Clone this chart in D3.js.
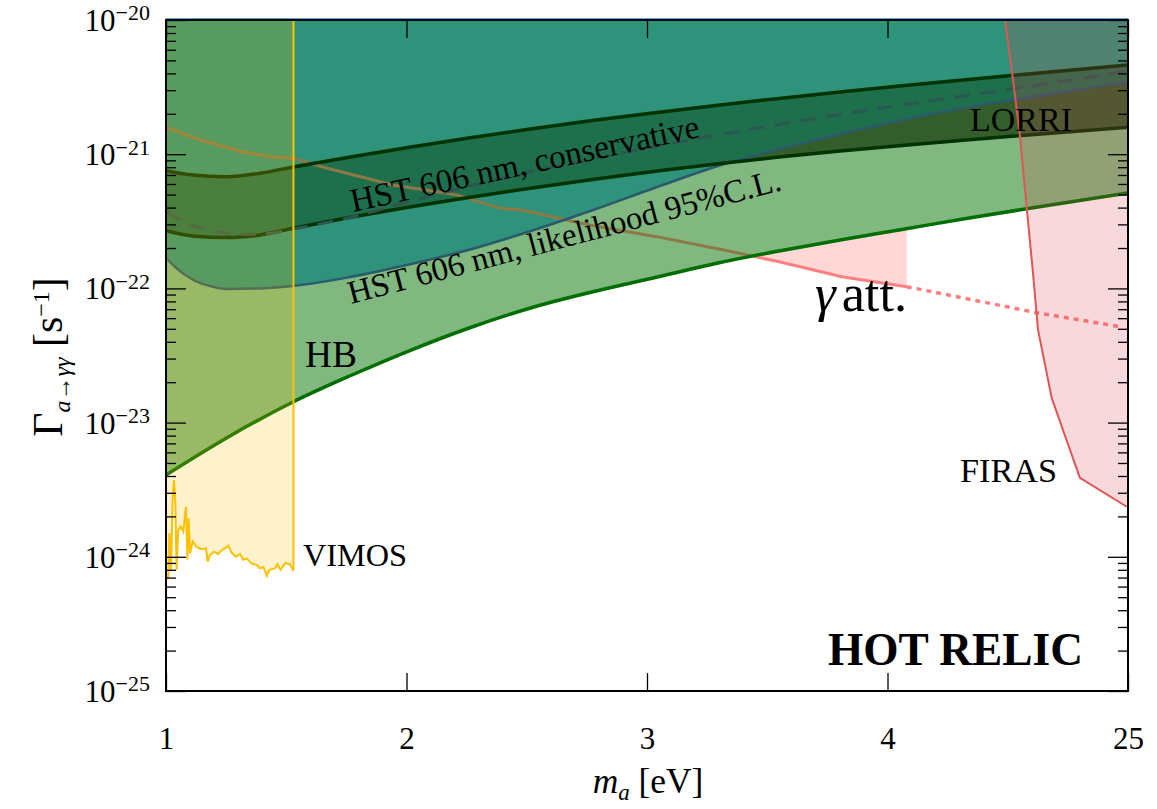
<!DOCTYPE html>
<html>
<head>
<meta charset="utf-8">
<script src="https://cdn.jsdelivr.net/npm/d3@7"></script>
<style>
  body { margin: 0; background: #fff; }
  svg { display: block; }
  text { font-family: "Liberation Serif", "DejaVu Serif", serif; fill: #000; }
</style>
</head>
<body>
<svg id="chart" width="1157" height="809"></svg>
<script>
// ---- axis ticks ----
const massTicks = [1, 2, 3, 4, 5];
const massTickLabels = ["1", "2", "3", "4", "25"];
const rateTicks = [1e-25, 1e-24, 1e-23, 1e-22, 1e-21, 1e-20];
const rateTickExponents = ["−25", "−24", "−23", "−22", "−21", "−20"];

// ---- HB bound [m_a (eV), Gamma (1/s)] ----
const hbLimit = [
  [1.000, 4.07e-24], [1.266, 7.95e-24], [1.528, 1.424e-23], [1.773, 2.263e-23],
  [2.019, 3.475e-23], [2.272, 5.158e-23], [2.530, 7.27e-23], [2.788, 9.56e-23],
  [3.042, 1.216e-22], [3.295, 1.546e-22], [3.549, 1.900e-22], [3.803, 2.295e-22],
  [4.060, 2.748e-22], [4.314, 3.290e-22], [4.572, 3.906e-22], [5.000, 5.14e-22]
];

// ---- HST 606 nm, likelihood 95% C.L. ----
const hstLikelihood = [
  [1.003, 1.67e-22], [1.044, 1.41e-22], [1.112, 1.16e-22], [1.183, 1.04e-22],
  [1.252, 9.9e-23], [1.391, 1.0e-22], [1.528, 1.042e-22], [1.765, 1.216e-22],
  [2.019, 1.520e-22], [2.272, 1.966e-22], [2.530, 2.724e-22], [2.788, 3.906e-22],
  [3.042, 5.696e-22], [3.295, 8.17e-22], [3.549, 1.093e-21], [3.803, 1.414e-21],
  [4.060, 1.798e-21], [4.314, 2.210e-21], [4.572, 2.623e-21], [5.000, 3.451e-21]
];

// ---- HST 606 nm, conservative band ----
const consMass = [1.0, 1.11, 1.25, 1.39, 1.528, 1.773, 2.019, 2.272, 2.530, 2.788,
  3.042, 3.295, 3.549, 3.803, 4.060, 4.314, 4.572, 5.0];
const consUpper = [7.53e-22, 7.0e-22, 6.8e-22, 7.21e-22, 8.03e-22, 9.58e-22, 1.132e-21,
  1.332e-21, 1.554e-21, 1.795e-21, 2.045e-21, 2.318e-21, 2.605e-21, 2.907e-21,
  3.234e-21, 3.572e-21, 3.939e-21, 4.62e-21];
const consLower = [2.69e-22, 2.46e-22, 2.39e-22, 2.50e-22, 2.804e-22, 3.399e-22, 4.055e-22,
  4.798e-22, 5.63e-22, 6.535e-22, 7.483e-22, 8.48e-22, 9.516e-22, 1.056e-21,
  1.163e-21, 1.272e-21, 1.386e-21, 1.590e-21];

// ---- LORRI (dashed) ----
const lorri = [
  [1.003, 3.73e-22], [1.071, 3.14e-22], [1.183, 2.72e-22], [1.320, 2.53e-22],
  [1.432, 2.58e-22], [1.528, 2.77e-22], [1.773, 3.404e-22], [2.019, 4.48e-22],
  [2.272, 5.845e-22], [2.530, 7.494e-22], [2.788, 9.37e-22], [3.042, 1.151e-21],
  [3.295, 1.390e-21], [3.549, 1.665e-21], [3.803, 1.976e-21], [4.060, 2.326e-21],
  [4.314, 2.715e-21], [4.572, 3.168e-21], [5.000, 4.169e-21]
];

// ---- gamma attenuation ----
const gammaAtt = [
  [1.00, 1.585e-21], [1.14, 1.28e-21], [1.32, 1.04e-21], [1.43, 9.58e-22],
  [1.53, 9.32e-22], [1.67, 7.85e-22], [1.81, 6.80e-22], [1.94, 5.89e-22],
  [2.08, 5.41e-22], [2.21, 4.97e-22], [2.39, 3.95e-22], [2.48, 3.84e-22],
  [2.76, 2.97e-22], [3.04, 2.43e-22], [3.32, 1.93e-22], [3.55, 1.58e-22],
  [3.81, 1.22e-22], [4.08, 1.03e-22]
];
const gammaAttExtrap = [[4.08, 1.03e-22], [4.62, 6.59e-23], [4.97, 5.18e-23]];

// ---- VIMOS ----
const vimos = [
  [1.003, 7.0e-25], [1.010, 7.1e-25], [1.014, 1.50e-24], [1.021, 7.97e-25],
  [1.028, 2.80e-24], [1.033, 3.73e-24], [1.039, 2.50e-24], [1.044, 8.0e-25],
  [1.051, 1.58e-24], [1.061, 1.68e-24], [1.072, 1.54e-24], [1.083, 2.36e-24],
  [1.089, 9.5e-25], [1.094, 1.94e-24], [1.100, 1.06e-24], [1.111, 1.30e-24],
  [1.128, 1.18e-24], [1.148, 1.14e-24], [1.166, 1.16e-24], [1.173, 9.2e-25],
  [1.183, 1.03e-24], [1.200, 1.09e-24], [1.217, 1.05e-24], [1.232, 1.12e-24],
  [1.252, 1.18e-24], [1.259, 1.21e-24], [1.273, 1.07e-24], [1.291, 1.0e-24],
  [1.308, 1.05e-24], [1.321, 9.5e-25], [1.336, 9.7e-25], [1.356, 8.9e-25],
  [1.377, 8.7e-25], [1.391, 8.2e-25], [1.405, 8.4e-25], [1.419, 7.2e-25],
  [1.430, 8.0e-25], [1.453, 8.2e-25], [1.463, 8.8e-25], [1.477, 8.0e-25],
  [1.495, 9.0e-25], [1.516, 8.8e-25], [1.529, 7.9e-25]
];
const vimosEdge = 1.53;

// ---- FIRAS ----
const firas = [
  [4.489, 1e-20], [4.522, 3.57e-21], [4.551, 1.35e-21], [4.579, 3.97e-22],
  [4.605, 1.30e-22], [4.626, 4.90e-23], [4.683, 1.52e-23], [4.800, 3.87e-24],
  [4.995, 2.36e-24]
];

// ---- scales ----
const X0 = 166, X1 = 1128, Y0 = 20, Y1 = 691;
const x = d3.scaleLinear().domain([1, 5]).range([X0, X1]);
const y = d3.scaleLog().domain([1e-25, 1e-20]).range([Y1, Y0]);
const TOP = 1e-20, BOTTOM = 1e-25;

const svg = d3.select("#chart");
const defs = svg.append("defs");

const smooth = d3.curveMonotoneX;
const line = (c) => d3.line().x(d => x(d[0])).y(d => y(d[1])).curve(c || smooth);
const toTop = (c) => d3.area().x(d => x(d[0])).y0(y(TOP)).y1(d => y(d[1])).curve(c || smooth);
const toBottom = (c) => d3.area().x(d => x(d[0])).y0(y(BOTTOM)).y1(d => y(d[1])).curve(c || smooth);

function addClip(id, d) {
  defs.append("clipPath").attr("id", id).append("path").attr("d", d);
}
addClip("plotArea", `M${X0},${Y0}H${X1}V${Y1}H${X0}Z`);
addClip("aboveHB", toTop()(hbLimit));
addClip("belowHB", toBottom()(hbLimit));
addClip("aboveLik", toTop()(hstLikelihood));
addClip("belowLik", toBottom()(hstLikelihood));

const plot = svg.append("g").attr("clip-path", "url(#plotArea)");

// gamma attenuation region (only visible below HB)
plot.append("path").attr("d", toTop(d3.curveLinear)(gammaAtt)).attr("fill", "#ffd7d7");

// HB region
plot.append("path").attr("d", toTop()(hbLimit)).attr("fill", "#80b880");

// HST likelihood region
plot.append("path").attr("d", toTop()(hstLikelihood)).attr("fill", "#2e937a");

// HST conservative band
const consArea = d3.area()
  .x((d, i) => x(consMass[i]))
  .y0((d, i) => y(consLower[i]))
  .y1((d, i) => y(consUpper[i]))
  .curve(smooth);
plot.append("g").attr("clip-path", "url(#aboveLik)")
  .append("path").attr("d", consArea(consMass)).attr("fill", "#1e704d");
plot.append("g").attr("clip-path", "url(#belowLik)")
  .append("path").attr("d", consArea(consMass)).attr("fill", "#335e2c");

// gamma attenuation curve
plot.append("g").attr("clip-path", "url(#aboveHB)")
  .append("path").attr("d", line(d3.curveLinear)(gammaAtt))
  .attr("fill", "none").attr("stroke", "#8c7946").attr("stroke-width", 3);
plot.append("g").attr("clip-path", "url(#belowHB)")
  .append("path").attr("d", line(d3.curveLinear)(gammaAtt))
  .attr("fill", "none").attr("stroke", "#ff7f7f").attr("stroke-width", 3);
plot.append("path").attr("d", line(d3.curveLinear)(gammaAttExtrap))
  .attr("fill", "none").attr("stroke", "#ff7f7f").attr("stroke-width", 3.5)
  .attr("stroke-dasharray", "5,5");

// boundary lines
plot.append("path").attr("d", line()(hbLimit))
  .attr("fill", "none").attr("stroke", "#006e00").attr("stroke-width", 3.5);
plot.append("path").attr("d", line()(hstLikelihood))
  .attr("fill", "none").attr("stroke", "#2a5a6c").attr("stroke-width", 2.5);
const consUpperPts = consMass.map((m, i) => [m, consUpper[i]]);
const consLowerPts = consMass.map((m, i) => [m, consLower[i]]);
plot.append("path").attr("d", line()(consUpperPts))
  .attr("fill", "none").attr("stroke", "#003300").attr("stroke-width", 3.5);
plot.append("path").attr("d", line()(consLowerPts))
  .attr("fill", "none").attr("stroke", "#003300").attr("stroke-width", 3.5);
plot.append("path").attr("d", line()(lorri))
  .attr("fill", "none").attr("stroke", "#2d5650").attr("stroke-width", 3)
  .attr("stroke-dasharray", "16,10");

// VIMOS overlay
const vimosFill = vimos.concat([[vimosEdge, vimos[vimos.length - 1][1]]]);
plot.append("path").attr("d", toTop(d3.curveLinear)(vimosFill))
  .attr("fill", "#ffc000").attr("fill-opacity", 0.2);
plot.append("path").attr("d", line(d3.curveLinear)(vimos))
  .attr("fill", "none").attr("stroke", "#ffc000").attr("stroke-width", 2);
plot.append("path")
  .attr("d", line(d3.curveLinear)([[vimosEdge, vimos[vimos.length - 1][1]], [vimosEdge, TOP]]))
  .attr("fill", "none").attr("stroke", "#ffc000").attr("stroke-width", 2);

// FIRAS overlay
const firasPoly = firas.concat([[5, firas[firas.length - 1][1]], [5, TOP]]);
plot.append("path").attr("d", line(d3.curveLinear)(firasPoly) + "Z")
  .attr("fill", "#d7414b").attr("fill-opacity", 0.2);
plot.append("path").attr("d", line(d3.curveLinear)(firas))
  .attr("fill", "none").attr("stroke", "#e05555").attr("stroke-width", 2);

// ---- labels inside the plot ----
function fitLabel(sel, width) {
  const base = parseFloat(sel.attr("font-size"));
  const w = sel.node().getComputedTextLength();
  sel.attr("font-size", (base * width / w).toFixed(2));
  return sel;
}
function label(txt, px, py, size, width, rot) {
  const t = svg.append("text").attr("x", px).attr("y", py).attr("font-size", size).text(txt);
  if (width) fitLabel(t, width);
  if (rot) t.attr("transform", `rotate(${rot},${px},${py})`);
  return t;
}
label("HST 606 nm, conservative", 353, 212, 28, 356, -12.2);
label("HST 606 nm, likelihood 95%C.L.", 351, 304, 28, 447, -14.8);
label("HB", 305, 367, 30, 52);
label("VIMOS", 303, 566, 24, 104);
label("LORRI", 970, 131, 26, 102);
label("FIRAS", 960, 482, 24, 97);
const ga = svg.append("text").attr("x", 815).attr("y", 311).attr("font-size", 34);
ga.append("tspan").attr("font-style", "italic").text("γ");
ga.append("tspan").attr("dx", 6).text("att.");
fitLabel(ga, 86);
const hr = svg.append("text").attr("x", 828).attr("y", 665).attr("font-size", 34)
  .attr("font-weight", "bold").text("HOT RELIC");
fitLabel(hr, 255);

// ---- axes ----
const yMinor = [];
for (let e = -25; e < -20; e++) for (let k = 2; k <= 9; k++) yMinor.push(k * Math.pow(10, e));

function clean(g) {
  g.attr("font-size", null).attr("font-family", null);
  g.select(".domain").remove();
  g.selectAll(".tick line").attr("stroke", "#000").attr("stroke-width", 1.3);
  return g;
}
// left
clean(svg.append("g").attr("transform", `translate(${X0},0)`)
  .call(d3.axisLeft(y).tickValues(yMinor).tickSize(-10).tickFormat("")));
const gL = svg.append("g").attr("transform", `translate(${X0},0)`)
  .call(d3.axisLeft(y).tickValues(rateTicks).tickSize(-20).tickPadding(16).tickFormat(""));
clean(gL);
gL.selectAll(".tick text").each(function (d, i) {
  const t = d3.select(this).attr("font-size", 31).attr("dy", "0.34em");
  t.append("tspan").text("10");
  t.append("tspan").attr("dy", "-0.48em").attr("font-size", 22).text(rateTickExponents[i]);
});
// right
clean(svg.append("g").attr("transform", `translate(${X1},0)`)
  .call(d3.axisRight(y).tickValues(yMinor).tickSize(-10).tickFormat("")));
clean(svg.append("g").attr("transform", `translate(${X1},0)`)
  .call(d3.axisRight(y).tickValues(rateTicks).tickSize(-20).tickFormat("")));
// bottom
const gB = svg.append("g").attr("transform", `translate(0,${Y1})`)
  .call(d3.axisBottom(x).tickValues(massTicks).tickSize(-18).tickPadding(36)
    .tickFormat((d, i) => massTickLabels[i]));
clean(gB);
gB.selectAll(".tick text").attr("font-size", 31);
// top
clean(svg.append("g").attr("transform", `translate(0,${Y0})`)
  .call(d3.axisTop(x).tickValues(massTicks).tickSize(-18).tickFormat("")));

// frame
svg.append("line").attr("x1", X0).attr("x2", X1).attr("y1", Y0 - 1.5).attr("y2", Y0 - 1.5)
  .attr("stroke", "#5aa5e0").attr("stroke-width", 1);
svg.append("rect").attr("x", X0).attr("y", Y0).attr("width", X1 - X0).attr("height", Y1 - Y0)
  .attr("fill", "none").attr("stroke", "#000").attr("stroke-width", 2);

// axis titles
const xt = svg.append("text").attr("x", 648).attr("y", 793).attr("font-size", 32).attr("text-anchor", "middle");
xt.append("tspan").attr("font-style", "italic").text("m");
xt.append("tspan").attr("font-style", "italic").attr("font-size", 23).attr("dy", 7).text("a");
xt.append("tspan").attr("dy", -7).text(" [eV]");
fitLabel(xt, 112);

const yt = svg.append("text").attr("x", 0).attr("y", 0).attr("font-size", 34)
  .attr("text-anchor", "middle").attr("transform", "translate(62,357) rotate(-90)");
yt.append("tspan").text("Γ");
yt.append("tspan").attr("font-size", 24).attr("dy", 8).attr("font-style", "italic").text("a→γγ");
yt.append("tspan").attr("dy", -8).text(" [s");
yt.append("tspan").attr("font-size", 24).attr("dy", -13).text("−1");
yt.append("tspan").attr("dy", 13).text("]");
fitLabel(yt, 178);
</script>
</body>
</html>
